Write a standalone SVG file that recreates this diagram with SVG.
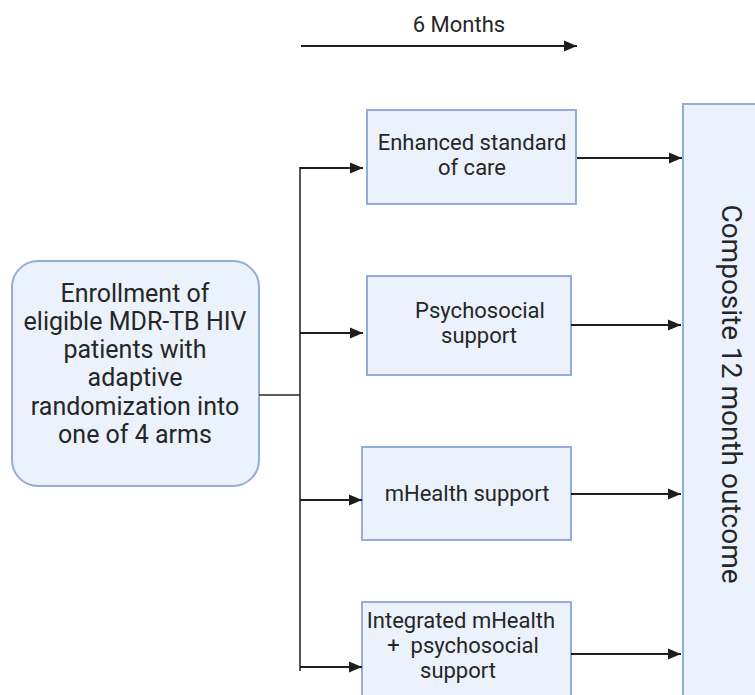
<svg xmlns="http://www.w3.org/2000/svg" width="755" height="695" viewBox="0 0 755 695">
<style>
.box{fill:#ebf2fc;stroke:#93acd9;stroke-width:2}
.t{font-family:Roboto,"Liberation Sans",sans-serif;fill:#262626;text-anchor:middle}
.s22{font-size:22px}
.s25{font-size:25px}
.s28{font-size:28px}
.arr{stroke:#1e1e1e;stroke-width:2.2;fill:none;marker-end:url(#ah)}
.ln{stroke:#2a2a2a;fill:none}
</style>
<defs>
<marker id="ah" markerUnits="userSpaceOnUse" markerWidth="14" markerHeight="14" viewBox="0 0 14 14" refX="13" refY="7" orient="auto">
<path d="M0,1.5 L13,7 L0,12.5 Z" fill="#1e1e1e"/>
</marker>
</defs>
<rect width="755" height="695" fill="#ffffff"/>
<g id="timeline">
<text class="t s22" x="459" y="32">6 Months</text>
<line class="arr" x1="301" y1="46" x2="577" y2="46"/>
</g>
<g id="enrollment">
<rect class="box" x="12" y="261" width="247" height="225" rx="26" ry="26"/>
<text class="t s25" x="135"><tspan x="135" y="302">Enrollment of</tspan><tspan x="135" y="330">eligible MDR-TB HIV</tspan><tspan x="135" y="358">patients with</tspan><tspan x="135" y="386">adaptive</tspan><tspan x="135" y="415">randomization into</tspan><tspan x="135" y="443">one of 4 arms</tspan></text>
</g>
<g id="arm1">
<rect class="box" x="367" y="110" width="209" height="94"/>
<text class="t s22"><tspan x="472" y="150">Enhanced standard</tspan><tspan x="472" y="175">of care</tspan></text>
</g>
<g id="arm2">
<rect class="box" x="367" y="276" width="204" height="99"/>
<text class="t s22"><tspan x="480" y="318">Psychosocial</tspan><tspan x="479" y="343">support</tspan></text>
</g>
<g id="arm3">
<rect class="box" x="362" y="447" width="209" height="93"/>
<text class="t s22" x="467" y="501">mHealth support</text>
</g>
<g id="arm4">
<rect class="box" x="362" y="602" width="209" height="110"/>
<text class="t s22" style="white-space:pre"><tspan x="461" y="628">Integrated mHealth</tspan><tspan x="463" y="653">+  psychosocial</tspan><tspan x="458" y="678">support</tspan></text>
</g>
<g id="outcome">
<rect class="box" x="683" y="104" width="90" height="610"/>
<text class="t s28" transform="translate(722,394) rotate(90)" x="0" y="0">Composite 12 month outcome</text>
</g>
<g id="connectors">
<line class="ln" x1="259" y1="395" x2="300" y2="395" stroke-width="1.3" stroke="#555"/>
<line class="ln" x1="300" y1="167" x2="300" y2="671" stroke-width="1.6"/>
<line class="arr" x1="300" y1="168" x2="363" y2="168"/>
<line class="arr" x1="300" y1="333" x2="363" y2="333"/>
<line class="arr" x1="300" y1="500" x2="362" y2="500"/>
<line class="arr" x1="300" y1="667" x2="362" y2="667"/>
<line class="arr" x1="577" y1="158" x2="682" y2="158"/>
<line class="arr" x1="571" y1="325" x2="681" y2="325"/>
<line class="arr" x1="571" y1="494" x2="681" y2="494"/>
<line class="arr" x1="571" y1="654" x2="681" y2="654"/>
</g>
</svg>
